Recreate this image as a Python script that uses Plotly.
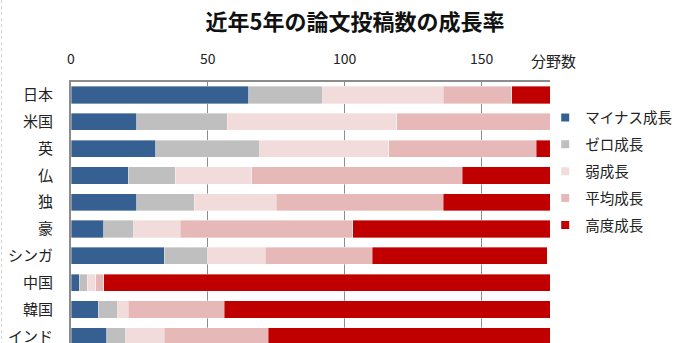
import plotly.graph_objects as go

categories = ["日本", "米国", "英", "仏", "独", "豪", "シンガ", "中国", "韓国", "インド"]
series_names = ["マイナス成長", "ゼロ成長", "弱成長", "平均成長", "高度成長"]
minus_growth = [65, 24, 31, 21, 24, 12, 34, 3, 10, 13]
zero_growth = [27, 33, 38, 17, 21, 11, 16, 3, 7, 7]
weak_growth = [44, 62, 47, 28, 30, 17, 21, 3, 4, 14]
avg_growth = [25, 56, 54, 77, 61, 63, 39, 3, 35, 38]
high_growth = [14, 0, 5, 32, 39, 72, 64, 163, 119, 103]
x_ticks = [0, 50, 100, 150]

colors = ["#376092", "#BFBFBF", "#F2DCDB", "#E6B9B8", "#C00000"]
values = [minus_growth, zero_growth, weak_growth, avg_growth, high_growth]

font_family = "Noto Sans CJK JP, Noto Sans, sans-serif"

fig = go.Figure()
for name, vals, col in zip(series_names, values, colors):
    fig.add_trace(go.Bar(
        y=categories, x=vals, name=name, orientation="h", showlegend=False,
        legendgroup=name,
        marker=dict(color=col, line=dict(color="rgba(255,255,255,0.6)", width=0.6)),
    ))
# legend entries with small square swatches
for name, col in zip(series_names, colors):
    fig.add_trace(go.Scatter(
        x=[None], y=[None], mode="markers", name=name, legendgroup=name,
        marker=dict(symbol="square", size=8, color=col),
    ))

fig.update_layout(
    barmode="stack",
    bargap=0.36,
    width=675, height=343,
    margin=dict(l=71, r=125, t=82, b=0, autoexpand=False),
    paper_bgcolor="white", plot_bgcolor="white",
    font=dict(family=font_family, size=14, color="#222"),
    title=dict(text="<b>近年5年の論文投稿数の成長率</b>", x=0.526, xanchor="center",
               y=0.935, yanchor="middle", font=dict(size=22, color="#111")),
    legend=dict(x=0.99, xanchor="left", y=0.925, yanchor="top",
                bgcolor="rgba(0,0,0,0)",
                font=dict(size=14.5, color="#222"), tracegroupgap=5,
                itemwidth=30, traceorder="grouped"),
    showlegend=True,
)
fig.update_xaxes(
    side="top", range=[0, 175], tickvals=x_ticks,
    showgrid=True, gridcolor="#8c8c8c", gridwidth=1,
    showline=True, linecolor="#8c8c8c", linewidth=2,
    ticks="", ticklabelstandoff=10,
    tickfont=dict(size=14, color="#222"), zeroline=False,
)
fig.update_yaxes(
    autorange=False, range=[9.25, -0.485],
    showline=True, linecolor="#8c8c8c", linewidth=2,
    ticks="", ticklabelstandoff=13, showgrid=False,
    tickfont=dict(size=15, color="#222"),
)
fig.add_annotation(text="分野数", xref="paper", yref="paper", x=0.956, y=1.0,
                   yshift=22, xanchor="left", yanchor="middle", showarrow=False,
                   font=dict(size=15, color="#222"))
fig.add_shape(type="line", xref="paper", yref="paper", x0=-0.145, x1=-0.145,
              y0=-0.1, y1=1.4, line=dict(color="#cfcfcf", width=1, dash="dot"))

fig.write_html("out.html")
